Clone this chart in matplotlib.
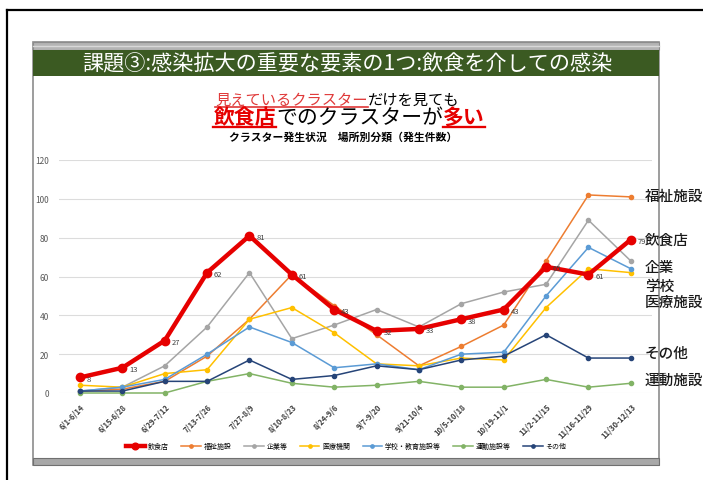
import matplotlib
matplotlib.use("Agg")
import matplotlib.pyplot as plt
from matplotlib.patches import Rectangle

plt.rcParams['font.family'] = ['Noto Sans CJK JP', 'DejaVu Sans']

# --- data -------------------------------------------------------------
periods = ['6/1-6/14', '6/15-6/28', '6/29-7/12', '7/13-7/26', '7/27-8/9',
           '8/10-8/23', '8/24-9/6', '9/7-9/20', '9/21-10/4', '10/5-10/18',
           '10/19-11/1', '11/2-11/15', '11/16-11/29', '11/30-12/13']

restaurants = [8, 13, 27, 62, 81, 61, 43, 32, 33, 38, 43, 65, 61, 79]
welfare = [1, 2, 6, 19, 38, 61, 45, 30, 14, 24, 35, 68, 102, 101]
companies = [1, 3, 14, 34, 62, 28, 35, 43, 34, 46, 52, 56, 89, 68]
medical = [4, 3, 10, 12, 38, 44, 31, 15, 14, 18, 17, 44, 64, 62]
schools = [1, 3, 7, 20, 34, 26, 13, 15, 12, 20, 21, 50, 75, 64]
sports = [0, 0, 0, 6, 10, 5, 3, 4, 6, 3, 3, 7, 3, 5]
others = [1, 1, 6, 6, 17, 7, 9, 14, 12, 17, 19, 30, 18, 18]

series_names = ['飲食店', '福祉施設', '企業等', '医療機関', '学校・教育施設等', '運動施設等', 'その他']
side_names = ['福祉施設', '飲食店', '企業', '学校', '医療施設', 'その他', '運動施設']

title = '課題③:感染拡大の重要な要素の1つ:飲食を介しての感染'
chart_title = 'クラスター発生状況　場所別分類（発生件数）'

# --- figure / slide background (pixel coords) -------------------------
fig = plt.figure(figsize=(7.03, 4.81), dpi=100)
bg = fig.add_axes([0, 0, 1, 1])
bg.set_xlim(0, 703)
bg.set_ylim(481, 0)
bg.axis('off')

bg.plot([7, 7], [481, 11], color='black', lw=1.6)
bg.plot([7, 703], [11, 11], color='black', lw=1.6)

bg.add_patch(Rectangle((33, 43), 626, 423, facecolor='white', edgecolor='#8c8c8c', lw=1.2))
bg.add_patch(Rectangle((33, 43), 626, 8, facecolor='#b4b4b4', edgecolor='#8c8c8c', lw=0.8))
bg.plot([33, 659], [47, 47], color='#d8d8d8', lw=1)
bg.add_patch(Rectangle((33, 51), 626, 26, facecolor='#3b5a22', edgecolor='none'))
bg.add_patch(Rectangle((33, 459), 626, 7, facecolor='#a8a8a8', edgecolor='#707070', lw=0.8))
bg.text(347, 64, title, color='white', fontsize=15.2, ha='center', va='center')

renderer = fig.canvas.get_renderer()


def rich_line(parts, cx, cy, size):
    items = []
    total = 0
    for txt, color, weight, under in parts:
        t = bg.text(0, cy, txt, color=color, fontsize=size, fontweight=weight,
                    ha='left', va='center')
        w = t.get_window_extent(renderer).width
        items.append((t, w, under, color))
        total += w
    x = cx - total / 2
    for t, w, under, color in items:
        t.set_x(x)
        if under:
            uy = cy + size * 1.389 * 0.5
            bg.plot([x, x + w], [uy, uy], color=color, lw=size / 9)
        x += w


red = '#e60000'
rich_line([('見えているクラスター', '#e03a3a', 'normal', True),
           ('だけを見ても', 'black', 'normal', False)], 337, 100, 11)
rich_line([('飲食店', red, 'bold', True),
           ('でのクラスターが', 'black', 'normal', False),
           ('多い', red, 'bold', True)], 349, 118, 15)
bg.text(343, 138, chart_title, fontsize=7.8, fontweight='bold', ha='center', va='center')

# --- chart -------------------------------------------------------------
ax = fig.add_axes([58.8 / 703, 87 / 481, 593.2 / 703, 233 / 481])
ax.set_facecolor('none')
ax.set_xlim(-0.5, 13.5)
ax.set_ylim(0, 120)
ax.set_yticks(range(0, 121, 20))
ax.grid(axis='y', color='#dcdcdc', lw=0.8)
ax.set_axisbelow(True)
for s in ax.spines.values():
    s.set_visible(False)
ax.tick_params(length=0)
ax.tick_params(axis='y', labelsize=6, labelcolor='#595959', pad=7)
ax.set_xticks(range(len(periods)))
ax.set_xticklabels(periods, rotation=45, ha='right', rotation_mode='anchor',
                   fontsize=5.5, color='#404040', fontweight='bold')
ax.tick_params(axis='x', pad=6)

x = range(len(periods))
styles = [(welfare, '#ed7d31'), (companies, '#a5a5a5'), (medical, '#ffc000'),
          (schools, '#5b9bd5'), (sports, '#82b366'), (others, '#264478')]
handles = []
rl, = ax.plot(x, restaurants, color=red, lw=3.2, marker='o', ms=6, zorder=10, clip_on=False)
for vals, col in styles:
    ln, = ax.plot(x, vals, color=col, lw=1.1, marker='o', ms=3, zorder=5, clip_on=False)
    handles.append(ln)
handles.insert(0, rl)

for i, v in enumerate(restaurants):
    ax.annotate(str(v), (i, v), xytext=(5, -1), textcoords='offset points',
                fontsize=5.5, color='#404040', va='center', ha='left', zorder=11)

side_y = [101.6, 79, 64.7, 55.3, 46.7, 20.6, 6.8]
for name, yv in zip(side_names, side_y):
    ax.text(13.33, yv, name, fontsize=10.5, color='#1a1a1a', ha='left', va='center',
            fontweight='medium', clip_on=False, zorder=12)

fig.legend(handles, series_names, loc='center', bbox_to_anchor=(346 / 703, 1 - 447 / 481),
           ncol=7, frameon=False, fontsize=5, handlelength=2.8, columnspacing=1.8,
           handletextpad=0.4, markerscale=0.8)

fig.savefig('out.png', dpi=100)
